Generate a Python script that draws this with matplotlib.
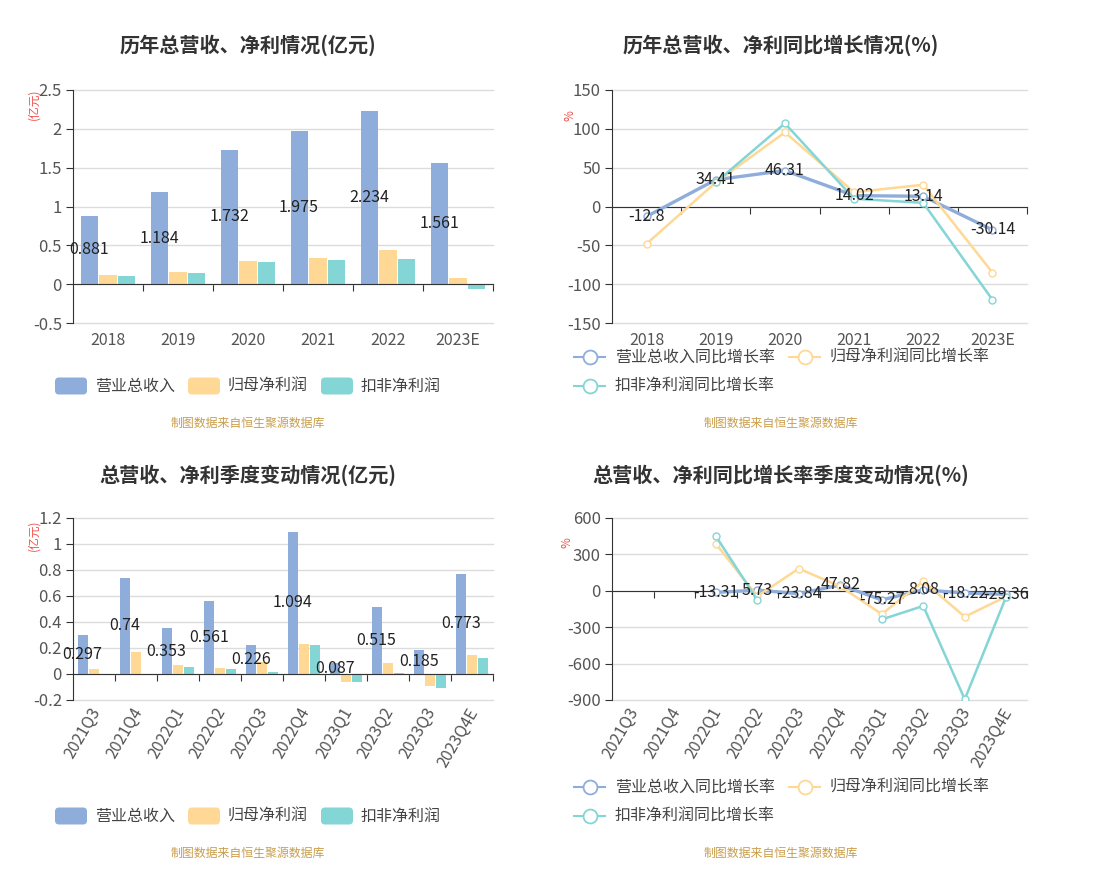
import numpy as np
import matplotlib
matplotlib.use("Agg")
import matplotlib.pyplot as plt
from matplotlib.patches import FancyBboxPatch
from matplotlib.lines import Line2D
from matplotlib.transforms import IdentityTransform, blended_transform_factory

plt.rcParams["font.family"] = ["Noto Sans CJK SC", "DejaVu Sans"]
plt.rcParams["axes.unicode_minus"] = False

W, H = 1095, 881
nan = np.nan

# ── annual data ──
years = ["2018", "2019", "2020", "2021", "2022", "2023E"]
revenue = [0.881, 1.184, 1.732, 1.975, 2.234, 1.561]
net_profit = [0.12, 0.16, 0.30, 0.343, 0.44, 0.073]
deducted_profit = [0.108, 0.146, 0.288, 0.317, 0.33, -0.06]

revenue_growth = [-12.8, 34.41, 46.31, 14.02, 13.14, -30.14]
net_profit_growth = [-48, 31, 95.5, 18.4, 28, -85]
deducted_growth = [nan, 31, 107, 10, 4.7, -120]

# ── quarterly data ──
quarters = ["2021Q3", "2021Q4", "2022Q1", "2022Q2", "2022Q3",
            "2022Q4", "2023Q1", "2023Q2", "2023Q3", "2023Q4E"]
q_revenue = [0.297, 0.74, 0.353, 0.561, 0.226, 1.094, 0.087, 0.515, 0.185, 0.773]
q_net_profit = [0.038, 0.17, 0.072, 0.048, 0.095, 0.23, -0.059, 0.085, -0.095, 0.15]
q_deducted = [nan, nan, 0.056, 0.04, 0.018, 0.225, -0.064, 0.005, -0.108, 0.125]

q_revenue_growth = [nan, nan, -13.31, 5.73, -23.84, 47.82, -75.27, 8.08, -18.22, -29.36]
q_net_profit_growth = [nan, nan, 389, -45, 183, 36, -192, 78, -214, -47]
q_deducted_growth = [nan, nan, 452, -75, nan, nan, -236, -125, -894, -47]

BLUE = "#8eaddb"
YELLOW = "#fed894"
CYAN = "#84d5d6"
GRID = "#dcdcdc"
AXIS = "#333333"
TICK = "#555555"
SRC = "#c99d4a"
UNIT = "#f0504a"

bar_names = ["营业总收入", "归母净利润", "扣非净利润"]
line_names = ["营业总收入同比增长率", "归母净利润同比增长率", "扣非净利润同比增长率"]

fig = plt.figure(figsize=(W / 100, H / 100), dpi=100)
fig.patch.set_facecolor("white")


def add_axes_px(x0, y0, x1, y1):
    return fig.add_axes([x0 / W, 1 - y1 / H, (x1 - x0) / W, (y1 - y0) / H])


def style_axes(ax, labels, yticks, rotate=False):
    n = len(labels)
    ax.set_xlim(-0.5, n - 0.5)
    ax.set_ylim(yticks[0], yticks[-1])
    ax.set_yticks(yticks)
    ax.set_yticklabels([f"{t:g}" for t in yticks])
    ax.tick_params(axis="y", direction="out", length=5, color=AXIS,
                   labelsize=12, labelcolor=TICK, pad=3)
    ax.grid(axis="y", color=GRID, lw=1)
    for gl in ax.get_ygridlines():
        gl.set_clip_on(False)
    ax.set_axisbelow(True)
    for s in ["top", "right"]:
        ax.spines[s].set_visible(False)
    ax.spines["left"].set_color(AXIS)
    ax.spines["bottom"].set_color(AXIS)
    ax.spines["bottom"].set_position(("data", 0))
    ax.spines["bottom"].set_zorder(3)
    ax.set_xticks([i + 0.5 for i in range(n)])
    ax.set_xticklabels([])
    ax.tick_params(axis="x", direction="out", length=5, color=AXIS)
    tr = blended_transform_factory(ax.transData, ax.transAxes)
    for i, lab in enumerate(labels):
        if rotate:
            ax.text(i + 0.05, -0.05, lab, transform=tr, rotation=60,
                    rotation_mode="anchor", ha="right", va="center",
                    fontsize=11.5, color=TICK)
        else:
            ax.text(i, -0.04, lab, transform=tr, ha="center", va="top",
                    fontsize=11.5, color=TICK)


def bar_chart(ax, labels, s1, s2, s3, yticks, rotate=False):
    x = np.arange(len(labels))
    pitch, width = 0.27, 0.245
    ax.bar(x - pitch, s1, width, color=BLUE, zorder=2)
    ax.bar(x, s2, width, color=YELLOW, zorder=2)
    ax.bar(x + pitch, s3, width, color=CYAN, zorder=2)
    for xi, v in zip(x, s1):
        ax.text(xi - pitch, v / 2, f"{v:g}", ha="center", va="center",
                fontsize=11.5, color="#222222", zorder=5)
    style_axes(ax, labels, yticks, rotate)


def line_chart(ax, labels, s1, s2, s3, yticks, rotate=False):
    x = np.arange(len(labels))
    ax.plot(x, s1, color=BLUE, lw=2.4, marker="o", ms=5, mfc="white",
            mec=BLUE, mew=1, zorder=4)
    ax.plot(x, s2, color=YELLOW, lw=1.8, marker="o", ms=5, mfc="white",
            mec=YELLOW, mew=1, zorder=4)
    ax.plot(x, s3, color=CYAN, lw=1.8, marker="o", ms=5, mfc="white",
            mec=CYAN, mew=1, zorder=4)
    for xi, v in zip(x, s1):
        if np.isnan(v):
            continue
        ax.text(xi, v, f"{v:g}", ha="center", va="center",
                fontsize=11.5, color="#222222", zorder=6)
    style_axes(ax, labels, yticks, rotate)


def bar_legend(y):
    ident = IdentityTransform()
    for x0, name, c in zip([55, 188, 321], bar_names, [BLUE, YELLOW, CYAN]):
        p = FancyBboxPatch((x0, H - y - 8.5), 32, 17,
                           boxstyle="round,pad=0,rounding_size=4",
                           transform=ident, fc=c, ec="none")
        fig.add_artist(p)
        fig.text((x0 + 40) / W, 1 - y / H, name, ha="left", va="center",
                 fontsize=11.5, color="#444444")


def line_legend(y1, y2):
    ident = IdentityTransform()
    spots = [(574, y1), (789, y1), (574, y2)]
    for (x0, y), name, c in zip(spots, line_names, [BLUE, YELLOW, CYAN]):
        fig.add_artist(Line2D([x0, x0 + 31], [H - y, H - y], color=c, lw=1.5,
                              transform=ident))
        fig.add_artist(Line2D([x0 + 15.5], [H - y], marker="o", ms=10,
                              mfc="white", mec=c, mew=1.3, transform=ident))
        fig.text((x0 + 41) / W, 1 - y / H, name, ha="left", va="center",
                 fontsize=11.5, color="#444444")


def title(xc, y, s):
    fig.text(xc / W, 1 - y / H, s, ha="center", va="center", fontsize=14.5,
             fontweight="bold", color="#333333")


def source(xc, y):
    fig.text(xc / W, 1 - y / H, "制图数据来自恒生聚源数据库", ha="center",
             va="center", fontsize=8.6, color=SRC)


def unit(x, y, s):
    fig.text(x / W, 1 - y / H, s, ha="center", va="center", rotation=90,
             fontsize=8.5, color=UNIT)


# top-left
ax1 = add_axes_px(73, 90, 493, 323)
bar_chart(ax1, years, revenue, net_profit, deducted_profit,
          [-0.5, 0, 0.5, 1, 1.5, 2, 2.5])
title(248, 45, "历年总营收、净利情况(亿元)")
unit(34, 104, "(亿元)")
bar_legend(386)
source(248, 423)

# top-right
ax2 = add_axes_px(612, 90, 1027, 323)
line_chart(ax2, years, revenue_growth, net_profit_growth, deducted_growth,
           [-150, -100, -50, 0, 50, 100, 150])
title(781, 45, "历年总营收、净利同比增长情况(%)")
unit(570, 116, "%")
line_legend(357, 386)
source(781, 423)

# bottom-left
ax3 = add_axes_px(73, 518, 493, 700)
bar_chart(ax3, quarters, q_revenue, q_net_profit, q_deducted,
          [-0.2, 0, 0.2, 0.4, 0.6, 0.8, 1, 1.2], rotate=True)
title(248, 475, "总营收、净利季度变动情况(亿元)")
unit(34, 535, "(亿元)")
bar_legend(816)
source(248, 853)

# bottom-right
ax4 = add_axes_px(612, 518, 1027, 700)
line_chart(ax4, quarters, q_revenue_growth, q_net_profit_growth, q_deducted_growth,
           [-900, -600, -300, 0, 300, 600], rotate=True)
title(781, 475, "总营收、净利同比增长率季度变动情况(%)")
unit(567, 543, "%")
line_legend(787, 816)
source(781, 853)

fig.savefig("out.png", dpi=100)
